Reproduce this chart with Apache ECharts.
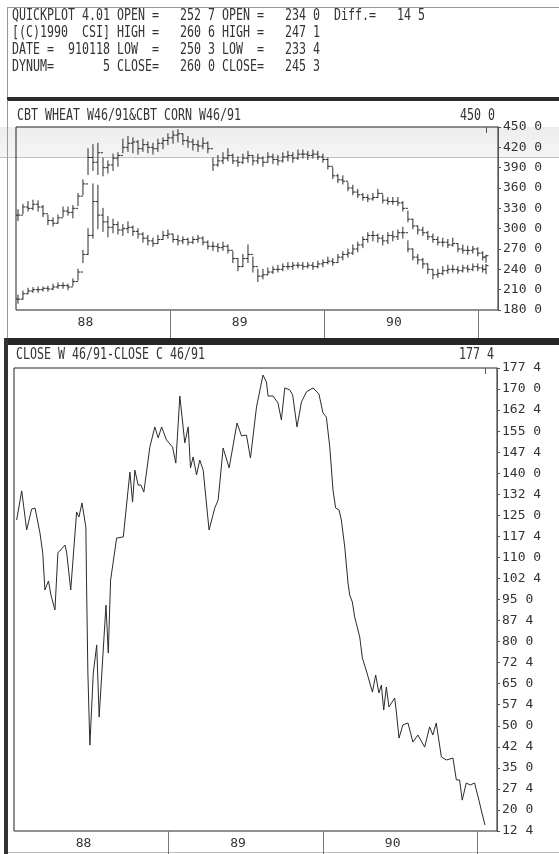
<!DOCTYPE html>
<html>
<head>
<meta charset="utf-8">
<script src="https://cdn.jsdelivr.net/npm/echarts@6/dist/echarts.min.js"></script>
<style>
  html, body { margin: 0; padding: 0; background: #fff; }
  #chart { width: 559px; height: 854px; }
</style>
</head>
<body>
<div id="chart"></div>
<script>
// Sample dates (decimal years) for the wheat / corn price bars
const tradeDates = [
  1988.013, 1988.045, 1988.078, 1988.110, 1988.143, 1988.175, 1988.207, 1988.240, 1988.272, 1988.305,
  1988.337, 1988.369, 1988.402, 1988.434, 1988.467, 1988.499, 1988.531, 1988.564, 1988.596, 1988.629,
  1988.661, 1988.693, 1988.726, 1988.758, 1988.791, 1988.823, 1988.855, 1988.888, 1988.920, 1988.953, 1988.985,
  1989.018, 1989.050, 1989.082, 1989.115, 1989.147, 1989.180, 1989.212, 1989.244, 1989.277, 1989.309,
  1989.342, 1989.374, 1989.406, 1989.439, 1989.471, 1989.504, 1989.536, 1989.568, 1989.601, 1989.633,
  1989.666, 1989.698, 1989.730, 1989.763, 1989.795, 1989.828, 1989.860, 1989.892, 1989.925, 1989.957, 1989.990,
  1990.022, 1990.054, 1990.087, 1990.119, 1990.152, 1990.184, 1990.216, 1990.249, 1990.281, 1990.314,
  1990.346, 1990.378, 1990.411, 1990.443, 1990.476, 1990.508, 1990.541, 1990.573, 1990.605, 1990.638,
  1990.670, 1990.703, 1990.735, 1990.767, 1990.800, 1990.832, 1990.865, 1990.897, 1990.929, 1990.962, 1990.994,
  1991.026, 1991.047
];

// CBT wheat (cents/bu)
const wheatLow = [
  312, 322, 326, 328, 326, 318, 306, 304, 308, 318, 320, 316, 334, 350, 380, 386, 380, 378, 382, 386, 392, 412, 414, 412, 410, 414, 412, 410, 414, 418, 424,
  426, 428, 424, 420, 416, 414, 418, 412, 386, 392, 396, 400, 396, 392, 396, 398, 394, 396, 392, 398, 396, 394, 398, 400, 398, 402, 404, 402, 404, 402, 398,
  388, 374, 368, 366, 356, 350, 346, 342, 340, 342, 346, 338, 336, 336, 334, 326, 310, 300, 292, 290, 284, 280, 276, 274, 272, 274, 266, 264, 262, 264, 260,
  254, 250.375
];
const wheatHigh = [
  328, 336, 340, 342, 341, 334, 320, 316, 320, 332, 332, 334, 352, 372, 418, 424, 426, 404, 400, 410, 412, 432, 436, 434, 430, 432, 428, 426, 432, 434, 440,
  444, 446, 440, 436, 432, 430, 434, 428, 404, 408, 412, 418, 410, 406, 410, 414, 408, 410, 406, 412, 410, 408, 412, 414, 412, 416, 416, 414, 416, 414, 410,
  404, 390, 380, 378, 368, 364, 358, 352, 350, 352, 358, 350, 346, 346, 346, 340, 326, 314, 304, 302, 296, 292, 288, 286, 284, 286, 278, 276, 274, 274, 272,
  266, 260.75
];
const wheatClose = [
  320, 332, 330, 336, 332, 322, 312, 308, 316, 326, 324, 330, 348, 366, 405, 398, 412, 390, 394, 404, 408, 420, 426, 428, 418, 424, 420, 418, 426, 430, 434,
  438, 440, 430, 428, 424, 422, 426, 418, 394, 400, 404, 408, 400, 398, 404, 408, 400, 404, 398, 406, 402, 400, 406, 408, 404, 410, 410, 408, 410, 406, 402,
  392, 378, 372, 370, 360, 354, 350, 346, 344, 346, 352, 342, 340, 340, 338, 330, 314, 304, 298, 294, 288, 284, 280, 280, 276, 278, 270, 268, 268, 270, 264,
  258, 260
];

// CBT corn (cents/bu)
const cornLow = [
  190, 196, 204, 206, 206, 208, 208, 210, 212, 212, 210, 216, 224, 250, 262, 286, 300, 296, 288, 294, 292, 290, 294, 290, 286, 280, 276, 274, 278, 284, 286,
  280, 276, 278, 276, 278, 280, 276, 270, 268, 266, 268, 264, 250, 238, 244, 250, 236, 222, 226, 232, 234, 236, 238, 240, 240, 242, 240, 242, 240, 242, 244,
  248, 246, 250, 254, 258, 262, 266, 272, 280, 282, 280, 276, 278, 282, 284, 286, 266, 254, 248, 242, 234, 226, 228, 232, 234, 236, 234, 236, 236, 238, 238,
  236, 233.5
];
const cornHigh = [
  202, 208, 212, 213, 214, 214, 215, 218, 220, 220, 218, 226, 240, 268, 300, 366, 364, 330, 318, 314, 310, 306, 310, 304, 300, 294, 290, 286, 290, 296, 298,
  292, 290, 288, 286, 288, 290, 288, 282, 280, 278, 280, 276, 266, 256, 262, 276, 258, 240, 240, 242, 244, 246, 248, 250, 250, 250, 250, 250, 250, 252, 254,
  258, 256, 262, 266, 270, 276, 280, 288, 294, 296, 292, 290, 294, 296, 298, 302, 282, 270, 262, 256, 248, 240, 240, 244, 246, 246, 244, 246, 246, 248, 248,
  246, 247.125
];
const cornClose = [
  196, 204, 208, 210, 210, 212, 211, 214, 216, 216, 214, 222, 236, 262, 290, 340, 320, 310, 302, 306, 298, 300, 302, 296, 292, 286, 282, 278, 284, 290, 292,
  284, 282, 284, 280, 284, 286, 280, 274, 274, 272, 274, 268, 256, 244, 256, 262, 244, 230, 232, 236, 240, 240, 244, 244, 246, 246, 244, 246, 244, 248, 250,
  252, 250, 258, 262, 264, 270, 276, 284, 290, 290, 286, 282, 290, 288, 294, 294, 270, 258, 254, 248, 240, 232, 234, 238, 240, 240, 238, 242, 240, 244, 242,
  240, 245.375
];

// Close wheat minus close corn
const spreadDates = [
  1988.017, 1988.050, 1988.082, 1988.114, 1988.136, 1988.168, 1988.186, 1988.200, 1988.223, 1988.239,
  1988.265, 1988.284, 1988.330, 1988.341, 1988.367, 1988.405, 1988.420, 1988.440, 1988.465, 1988.469,
  1988.478, 1988.491, 1988.513, 1988.535, 1988.551, 1988.595, 1988.610, 1988.625, 1988.664, 1988.707,
  1988.750, 1988.767, 1988.782, 1988.803, 1988.821, 1988.840, 1988.879, 1988.911, 1988.933, 1988.955, 1988.987,
  1989.026, 1989.047, 1989.073, 1989.105, 1989.127, 1989.142, 1989.159, 1989.181, 1989.202, 1989.224,
  1989.262, 1989.299, 1989.321, 1989.353, 1989.392, 1989.443, 1989.472, 1989.504, 1989.530, 1989.569,
  1989.611, 1989.633, 1989.644, 1989.676, 1989.708, 1989.730, 1989.752, 1989.784, 1989.803, 1989.831,
  1989.860, 1989.892, 1989.935, 1989.973, 1989.999,
  1990.021, 1990.043, 1990.064, 1990.081, 1990.103, 1990.118, 1990.140, 1990.161, 1990.172, 1990.189,
  1990.204, 1990.237, 1990.254, 1990.284, 1990.319, 1990.340, 1990.361, 1990.377, 1990.392, 1990.409,
  1990.426, 1990.463, 1990.474, 1990.491, 1990.516, 1990.549, 1990.581, 1990.613, 1990.657, 1990.689,
  1990.710, 1990.732, 1990.765, 1990.797, 1990.840, 1990.862, 1990.883, 1990.900, 1990.926, 1990.952, 1990.980,
  1991.008, 1991.023, 1991.047
];
const spreadValues = [
  123.3, 133.7, 119.8, 127.2, 127.6, 118.7, 111.6, 98.4, 101.6, 96.6,
  91.3, 111.6, 114.4, 111.6, 98.4, 126.2, 124.4, 129.4, 120.8, 101.9,
  68.8, 43.1, 68.8, 78.8, 53.1, 93.0, 75.9, 101.9, 116.9, 117.3,
  140.4, 129.7, 141.1, 135.8, 135.8, 133.3, 149.3, 156.5, 152.6, 156.5, 151.8,
  149.3, 143.6, 167.5, 150.8, 156.5, 141.9, 145.8, 139.4, 144.7, 141.1,
  119.8, 127.6, 130.5, 149.0, 141.9, 157.9, 153.3, 153.6, 145.4, 163.6,
  175.0, 172.5, 167.5, 167.5, 165.0, 159.0, 170.4, 169.7, 167.9, 156.5,
  165.4, 169.0, 170.4, 168.2, 161.5,
  160.0, 149.3, 134.0, 127.6, 126.9, 123.3, 113.7, 100.9, 96.6, 94.1,
  88.8, 81.6, 74.1, 68.8, 62.0, 68.1, 61.7, 64.5, 55.6, 63.8,
  56.7, 59.9, 54.9, 45.6, 50.3, 51.0, 44.2, 46.7, 42.4, 49.6,
  46.7, 51.0, 38.9, 37.8, 38.5, 30.7, 30.7, 23.5, 29.6, 28.9, 29.6,
  23.5, 20.0, 14.625
];

// Axis settings
const yearTicks = [1989, 1990, 1991];
const yearLabelAt = [1988.45, 1989.45, 1990.45];
const priceRange = { min: 180, max: 450, step: 30 };
const spreadRange = { min: 12.5, max: 177.5, step: 7.5 };

// Header text block
const headerLines = [
  'QUICKPLOT 4.01 OPEN =   252 7 OPEN =   234 0  Diff.=   14 5',
  '[(C)1990  CSI] HIGH =   260 6 HIGH =   247 1',
  'DATE =  910118 LOW  =   250 3 LOW  =   233 4',
  'DYNUM=       5 CLOSE=   260 0 CLOSE=   245 3'
];
const topTitle = 'CBT WHEAT W46/91&CBT CORN W46/91';
const bottomTitle = 'CLOSE W 46/91-CLOSE C 46/91';

// grain prices are quoted in cents and eighths: 177.5 -> "177 4"
function eighths(v) {
  const whole = Math.floor(v + 1e-6);
  const e = Math.round((v - whole) * 8);
  return whole + ' ' + e;
}

const INK = '#2b2b2b';
const MONO = '"DejaVu Sans Mono", monospace';
const TXT_SCALE = 0.775;

// each bar: [date, low, high, close, previous close]
function ohlcData(lo, hi, cl) {
  return tradeDates.map((d, i) => [d, lo[i], hi[i], cl[i], i > 0 ? cl[i - 1] : cl[i]]);
}

function barItem(params, api) {
  const x = api.value(0);
  const pLo = api.coord([x, api.value(1)]);
  const pHi = api.coord([x, api.value(2)]);
  const pCl = api.coord([x, api.value(3)]);
  const pPrev = api.coord([x, api.value(4)]);
  const st = { stroke: INK, lineWidth: 1 };
  return {
    type: 'group',
    children: [
      { type: 'line', shape: { x1: pLo[0], y1: pLo[1] + 0.5, x2: pHi[0], y2: pHi[1] - 0.5 }, style: st },
      { type: 'line', shape: { x1: pPrev[0] - 2, y1: pPrev[1], x2: pPrev[0], y2: pPrev[1] }, style: st },
      { type: 'line', shape: { x1: pCl[0], y1: pCl[1], x2: pCl[0] + 2.5, y2: pCl[1] }, style: st }
    ]
  };
}

function monoText(x, y, text, align) {
  return {
    type: 'text', x: x, y: y, scaleX: TXT_SCALE, z: 10,
    style: { text: text, font: '15px ' + MONO, fill: '#333', verticalAlign: 'middle', align: align || 'left' }
  };
}

const axisLabelFont = { fontFamily: MONO, fontSize: 13, color: '#333' };

function timeAxis(gridIndex, tickLen) {
  return {
    gridIndex: gridIndex, type: 'value', min: 1988, max: 1991.125,
    axisLine: { show: false },
    splitLine: { show: false },
    axisTick: { show: true, customValues: yearTicks, length: tickLen, lineStyle: { color: '#777', width: 1 } },
    axisLabel: Object.assign({ customValues: yearLabelAt, margin: 6, formatter: v => String(Math.floor(v) % 100) }, axisLabelFont)
  };
}

function endMarkAxis(gridIndex) {
  return {
    gridIndex: gridIndex, type: 'value', position: 'top', min: 1988, max: 1991.125,
    axisLine: { show: false }, splitLine: { show: false }, axisLabel: { show: false },
    axisTick: { show: true, inside: true, length: 6, customValues: [tradeDates[tradeDates.length - 1]], lineStyle: { color: '#555' } }
  };
}

function priceAxis(gridIndex, r) {
  return {
    gridIndex: gridIndex, type: 'value', position: 'right',
    min: r.min, max: r.max, interval: r.step,
    axisLine: { show: true, lineStyle: { color: '#555', width: 1 } },
    axisTick: { show: true, length: 3, lineStyle: { color: '#555' } },
    splitLine: { show: false },
    axisLabel: Object.assign({ margin: 5, showMinLabel: true, showMaxLabel: true, formatter: eighths }, axisLabelFont)
  };
}

const chart = echarts.init(document.getElementById('chart'), null, { renderer: 'canvas' });

chart.setOption({
  backgroundColor: '#fff',
  animation: false,
  grid: [
    { left: 16, top: 127, width: 482, height: 183, show: true, borderColor: '#222', borderWidth: 1, outerBoundsMode: 'none' },
    { left: 14, top: 368, width: 483, height: 463, show: true, borderColor: '#222', borderWidth: 1, outerBoundsMode: 'none' }
  ],
  xAxis: [timeAxis(0, 28), timeAxis(1, 24), endMarkAxis(0), endMarkAxis(1)],
  yAxis: [priceAxis(0, priceRange), priceAxis(1, spreadRange)],
  series: [
    { name: 'CBT WHEAT W46/91', type: 'custom', xAxisIndex: 0, yAxisIndex: 0, clip: true,
      renderItem: barItem, encode: { x: 0, y: [1, 2, 3] }, data: ohlcData(wheatLow, wheatHigh, wheatClose) },
    { name: 'CBT CORN W46/91', type: 'custom', xAxisIndex: 0, yAxisIndex: 0, clip: true,
      renderItem: barItem, encode: { x: 0, y: [1, 2, 3] }, data: ohlcData(cornLow, cornHigh, cornClose) },
    { name: 'CLOSE W - CLOSE C', type: 'line', xAxisIndex: 1, yAxisIndex: 1, showSymbol: false,
      lineStyle: { color: INK, width: 1 }, data: spreadDates.map((d, i) => [d, spreadValues[i]]) }
  ],
  graphic: [
    // faint scanner band across the upper price panel
    { type: 'rect', z: -1, shape: { x: 0, y: 127, width: 559, height: 31 },
      style: { fill: { type: 'linear', x: 0, y: 0, x2: 0, y2: 1,
        colorStops: [{ offset: 0, color: 'rgba(0,0,0,0.07)' }, { offset: 1, color: 'rgba(0,0,0,0.04)' }] } } },
    { type: 'rect', z: -1, shape: { x: 0, y: 157, width: 559, height: 1 }, style: { fill: 'rgba(0,0,0,0.22)' } },
    // header box
    { type: 'rect', shape: { x: 7, y: 7, width: 552, height: 1 }, style: { fill: '#999' } },
    { type: 'rect', shape: { x: 7, y: 7, width: 1, height: 92 }, style: { fill: '#999' } },
    { type: 'rect', shape: { x: 7, y: 97, width: 552, height: 4 }, style: { fill: '#2a2a2a' } },
    // upper panel edge
    { type: 'rect', shape: { x: 7, y: 100, width: 1, height: 240 }, style: { fill: '#999' } },
    // heavy divider and lower panel edge
    { type: 'rect', shape: { x: 5, y: 338, width: 554, height: 7 }, style: { fill: '#262626' } },
    { type: 'rect', shape: { x: 4, y: 338, width: 4, height: 516 }, style: { fill: '#333' } },
    { type: 'rect', shape: { x: 8, y: 852, width: 551, height: 1 }, style: { fill: '#bbb' } },
    monoText(12, 16, headerLines[0]),
    monoText(12, 33, headerLines[1]),
    monoText(12, 50, headerLines[2]),
    monoText(12, 67, headerLines[3]),
    monoText(17, 116, topTitle),
    monoText(495, 116, eighths(priceRange.max), 'right'),
    monoText(16, 355, bottomTitle),
    monoText(494, 355, eighths(spreadRange.max), 'right')
  ]
});
</script>
</body>
</html>
